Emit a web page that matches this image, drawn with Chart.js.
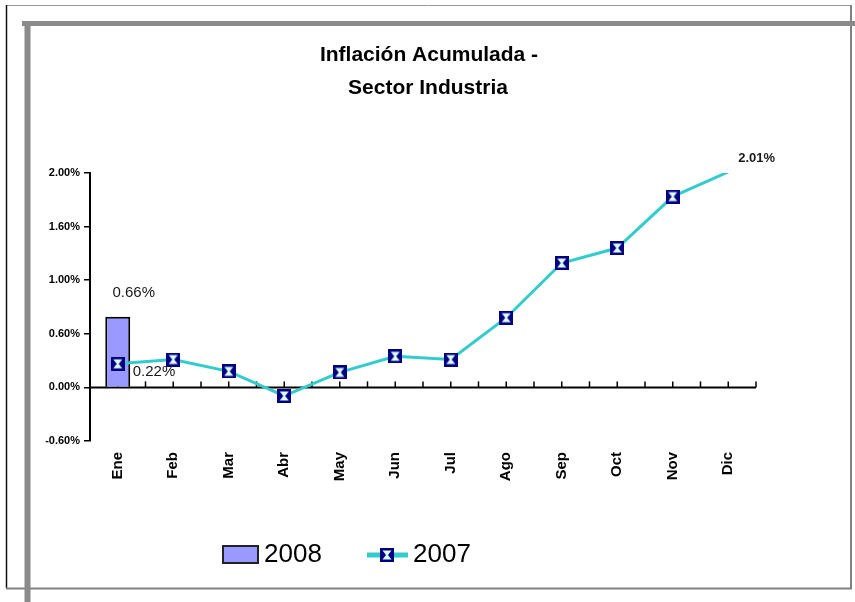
<!DOCTYPE html>
<html>
<head>
<meta charset="utf-8">
<script src="https://cdn.jsdelivr.net/npm/chart.js@4/dist/chart.umd.min.js"></script>
<style>
  body { margin: 0; background: #fff; }
  canvas { display: block; }
</style>
</head>
<body>
<canvas id="inflacionChart" width="855" height="602"></canvas>
<script>
const meses = ["Ene", "Feb", "Mar", "Abr", "May", "Jun", "Jul", "Ago", "Sep", "Oct", "Nov", "Dic"];
const serie2008 = [0.66, null, null, null, null, null, null, null, null, null, null, null];
const serie2007 = [0.22, 0.26, 0.15, -0.08, 0.14, 0.29, 0.26, 0.65, 1.16, 1.30, 1.78, 2.01];
const yTickValues = [-0.5, 0, 0.5, 1, 1.5, 2];
const yTickLabels = ["-0.60%", "0.00%", "0.60%", "1.00%", "1.60%", "2.00%"];
const tituloLineas = ["Inflación Acumulada -", "Sector Industria"];

const FONT = "'Liberation Sans', Arial, sans-serif";

// marcador cuadrado tipo Excel
const makeMarker = () => {
  const c = document.createElement("canvas");
  c.width = 14; c.height = 14;
  const g = c.getContext("2d");
  g.fillStyle = "#000080";
  g.fillRect(0, 0, 14, 14);
  g.fillStyle = "#dffcfc";
  g.beginPath();
  g.moveTo(2.5, 2.5); g.lineTo(11.5, 2.5); g.lineTo(8, 7);
  g.lineTo(11.5, 11.5); g.lineTo(2.5, 11.5); g.lineTo(6, 7);
  g.closePath();
  g.fill();
  return c;
};
const marker = makeMarker();

const decorPlugin = {
  id: "decor",
  beforeDraw(chart) {
    const ctx = chart.ctx;
    ctx.save();
    ctx.fillStyle = "#fff";
    ctx.fillRect(0, 0, chart.width, chart.height);
    // marco exterior
    ctx.strokeStyle = "#999";
    ctx.lineWidth = 1;
    ctx.beginPath(); ctx.moveTo(6, 5.5); ctx.lineTo(851, 5.5); ctx.stroke();
    ctx.strokeStyle = "#111";
    ctx.lineWidth = 1.5;
    ctx.beginPath(); ctx.moveTo(6.5, 5); ctx.lineTo(6.5, 588); ctx.stroke();
    ctx.strokeStyle = "#808080";
    ctx.lineWidth = 2;
    ctx.beginPath(); ctx.moveTo(6, 588.5); ctx.lineTo(851, 588.5); ctx.lineTo(851, 5); ctx.stroke();
    // lineas grises gruesas
    ctx.strokeStyle = "#8a8a8a";
    ctx.lineWidth = 5;
    ctx.beginPath(); ctx.moveTo(22, 23.5); ctx.lineTo(855, 23.5); ctx.stroke();
    ctx.lineWidth = 6;
    ctx.beginPath(); ctx.moveTo(27.5, 21); ctx.lineTo(27.5, 602); ctx.stroke();
    // titulo
    ctx.fillStyle = "#000";
    ctx.font = "bold 21px " + FONT;
    ctx.textAlign = "center";
    ctx.textBaseline = "middle";
    ctx.fillText(tituloLineas[0], 429, 55);
    ctx.fillText(tituloLineas[1], 428, 88);
    ctx.restore();
  },
  beforeDatasetsDraw(chart) {
    const { ctx, scales: { x, y } } = chart;
    const y0 = y.getPixelForValue(0);
    ctx.save();
    ctx.strokeStyle = "#000";
    ctx.lineWidth = 2;
    ctx.beginPath();
    ctx.moveTo(chart.chartArea.left, y0);
    ctx.lineTo(chart.chartArea.right, y0);
    ctx.stroke();
    ctx.lineWidth = 1.5;
    const half = (x.getPixelForValue(1) - x.getPixelForValue(0)) / 2;
    for (let i = 0; i < meses.length; i++) {
      const c = x.getPixelForValue(i);
      [c, c + half].forEach((px) => {
        ctx.beginPath();
        ctx.moveTo(px, y0);
        ctx.lineTo(px, y0 - 6);
        ctx.stroke();
      });
    }
    ctx.restore();
  },
  afterDraw(chart) {
    const ctx = chart.ctx;
    const barEl = chart.getDatasetMeta(0).data[0];
    const pts = chart.getDatasetMeta(1).data;
    ctx.save();
    ctx.fillStyle = "#1a1a1a";
    ctx.textBaseline = "middle";
    ctx.font = "15px " + FONT;
    ctx.textAlign = "center";
    ctx.fillText(serie2008[0].toFixed(2) + "%", barEl.x + 16, barEl.y - 24);
    ctx.textAlign = "left";
    ctx.fillText(serie2007[0].toFixed(2) + "%", pts[0].x + 15, pts[0].y + 8);
    ctx.font = "bold 13px " + FONT;
    const last = pts[pts.length - 1];
    ctx.fillText(serie2007[11].toFixed(2) + "%", last.x + 10, last.y - 14);

    // leyenda
    ctx.fillStyle = "#9999ff";
    ctx.fillRect(223, 546, 35, 17);
    ctx.strokeStyle = "#222";
    ctx.lineWidth = 2;
    ctx.strokeRect(223, 546, 35, 17);
    ctx.fillStyle = "#000";
    ctx.font = "26px " + FONT;
    ctx.textAlign = "left";
    ctx.fillText("2008", 264, 555);
    ctx.strokeStyle = "#33cccc";
    ctx.lineWidth = 5;
    ctx.beginPath(); ctx.moveTo(367, 555); ctx.lineTo(408, 555); ctx.stroke();
    ctx.drawImage(marker, 380, 548);
    ctx.fillText("2007", 413, 555);
    ctx.restore();
  }
};

const ctx = document.getElementById("inflacionChart").getContext("2d");
new Chart(ctx, {
  type: "bar",
  data: {
    labels: meses,
    datasets: [
      {
        label: "2008",
        data: serie2008,
        backgroundColor: "#9999ff",
        borderColor: "#000",
        borderWidth: 2,
        barPercentage: 0.5,
        categoryPercentage: 0.9,
        order: 2
      },
      {
        type: "line",
        label: "2007",
        data: serie2007,
        borderColor: "#33cccc",
        borderWidth: 3,
        pointStyle: serie2007.map((v, i) => (i === serie2007.length - 1 ? false : marker)),
        pointRadius: 7,
        tension: 0,
        order: 1
      }
    ]
  },
  options: {
    responsive: false,
    animation: false,
    layout: { padding: { top: 173, right: 99, left: 0, bottom: 0 } },
    plugins: {
      legend: { display: false },
      title: { display: false },
      tooltip: { enabled: false }
    },
    scales: {
      x: {
        grid: { display: false, drawTicks: false },
        border: { display: false },
        ticks: {
          color: "#000",
          font: { family: FONT, size: 15, weight: "bold" },
          minRotation: 90,
          maxRotation: 90,
          padding: 11
        },
        afterFit(scale) { scale.height = 161; }
      },
      y: {
        min: -0.5,
        max: 2,
        afterBuildTicks(scale) {
          scale.ticks = yTickValues.map((v) => ({ value: v }));
        },
        grid: {
          drawOnChartArea: false,
          drawTicks: true,
          tickLength: 6,
          color: "#000",
          lineWidth: 1.5
        },
        border: { display: true, color: "#000", width: 2 },
        ticks: {
          color: "#000",
          font: { family: FONT, size: 11, weight: "bold" },
          padding: 4,
          callback: (value, index) => yTickLabels[index]
        },
        afterFit(scale) { scale.width = 90; }
      }
    }
  },
  plugins: [decorPlugin]
});
</script>
</body>
</html>
